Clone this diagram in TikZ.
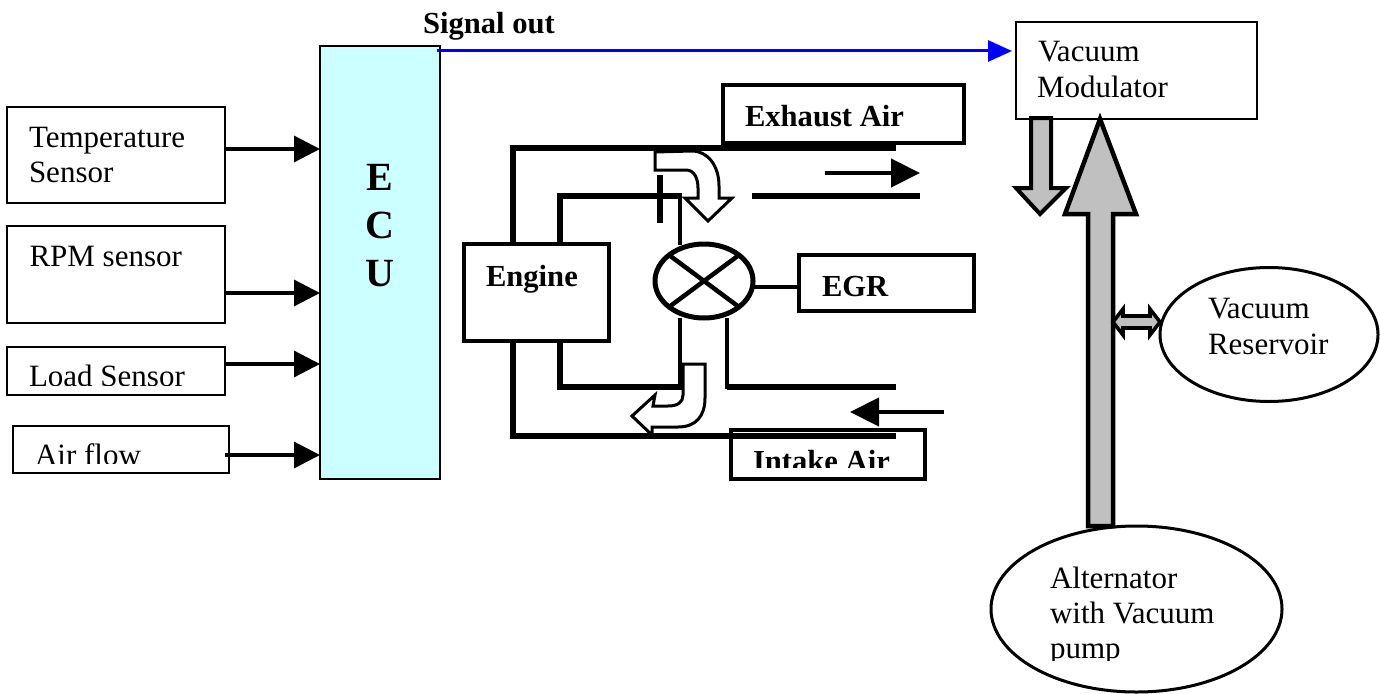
\documentclass[tikz,border=0pt]{standalone}
\usepackage{fontspec}
\setmainfont{Liberation Serif}
\usetikzlibrary{arrows.meta,calc}
\definecolor{graybody}{HTML}{C0C0C0}
\definecolor{ecucyan}{HTML}{CCFFFF}
\definecolor{sigblue}{HTML}{0000FF}
\tikzset{
  box/.style={draw=black,line width=1.7pt,fill=white,inner sep=0pt,outer sep=0pt},
  boldbox/.style={box,line width=3.2pt},
  txt/.style={anchor=base west,inner sep=0pt,outer sep=0pt,font=\fontsize{31}{36}\selectfont},
  btxt/.style={txt,font=\fontsize{30.6}{36}\selectfont\bfseries},
  ecutxt/.style={anchor=base,inner sep=0pt,font=\fontsize{40}{48}\selectfont\bfseries},
  sensorarrow/.style={line width=3.2pt,-{Triangle[length=26pt,width=26pt]}},
  flowarrow/.style={line width=4.5pt,-{Triangle[length=29pt,width=28pt]}},
  pipe/.style={line width=5.6pt,line cap=butt,line join=miter},
  pipethin/.style={line width=4.6pt,line cap=butt},
  whitebend/.style={draw=black,line width=3pt,fill=white,line join=miter},
  grayarrow/.style={draw=black,line width=4pt,fill=graybody,line join=miter}
}
\begin{document}
\begin{tikzpicture}[x=1pt,y=-1pt]
\useasboundingbox (0,0) rectangle (1380,693);
% boxes
\node[box,minimum width=218pt,minimum height=96pt] (temp) at (116,155) {};
\node[box,minimum width=218pt,minimum height=97pt] (rpm) at (116,274.5) {};
\node[box,minimum width=218pt,minimum height=48pt] (load) at (116,371) {};
\node[box,minimum width=216pt,minimum height=47pt] (air) at (121,449.5) {};
\node[box,fill=ecucyan,minimum width=120pt,minimum height=433pt] (ecu) at (380,262.5) {};
\node[box,minimum width=241pt,minimum height=97pt] (mod) at (1136.5,70.5) {};
\node[boldbox,minimum width=241pt,minimum height=58pt] (exh) at (843.5,114) {};
\node[boldbox,minimum width=145pt,minimum height=97pt] (eng) at (536.5,292.5) {};
\node[boldbox,minimum width=175pt,minimum height=56pt] (egr) at (886.5,283) {};
\node[boldbox,minimum width=194pt,minimum height=49pt] (intake) at (828,454.5) {};
% sensor text
\node[txt] (t1) at (29,147) {Temperature};
\node[txt] (t2) at (29,182) {Sensor};
\node[txt] (t3) at (29.5,266) {RPM sensor};
\begin{scope}
\clip (0,340) rectangle (300,385);
\node[txt] (t4) at (29,386) {Load Sensor};
\end{scope}
\begin{scope}
\clip (0,420) rectangle (300,463);
\node[txt] (t5) at (35,465.5) {Air flow};
\end{scope}
% sensor arrows
\draw[sensorarrow] (temp.east |- 0,149) -- (ecu.west |- 0,149);
\draw[sensorarrow] (rpm.east |- 0,293) -- (ecu.west |- 0,293);
\draw[sensorarrow] (load.east |- 0,364) -- (ecu.west |- 0,364);
\draw[sensorarrow] (225,455) -- (ecu.west |- 0,455);
% ECU letters
\node[ecutxt] (e1) at (ecu.center |- 0,190) {E};
\node[ecutxt] (e2) at (ecu.center |- 0,238) {C};
\node[ecutxt] (e3) at (ecu.center |- 0,286) {U};
% signal
\node[btxt] (sig) at (423,34) {Signal out};
\draw[draw=sigblue,line width=3pt,-{Triangle[length=24pt,width=21pt]}] (437,51) -- (1012,51);
% pipes
\draw[pipe] (896,148) -- (513,148) -- (513,244);
\draw[pipe] (513,341) -- (513,436) -- (896,436);
\draw[pipe] (560,244) -- (560,196) -- (682,196);
\draw[pipe] (752,196) -- (920,196);
\draw[pipe] (560,341) -- (560,387) -- (682,387);
\draw[pipe] (727,387) -- (896,387);
\draw[pipethin] (680,196) -- (680,245);
\draw[pipethin] (680,318) -- (680,387);
\draw[pipethin] (727,318) -- (727,389);
\draw[pipe] (660,175) -- (660,223);
% valve
\coordinate (valve) at (704,281);
\draw[line width=5pt,fill=white] (valve) ellipse [x radius=49,y radius=37];
\draw[line width=4.5pt] ($(valve)+(-35,-26)$) -- ($(valve)+(35,26)$);
\draw[line width=4.5pt] ($(valve)+(-35,26)$) -- ($(valve)+(35,-26)$);
\draw[line width=3.5pt] (754,287) -- (egr.west |- 0,287);
% flow arrows
\draw[flowarrow] (825,173) -- (920,173);
\draw[flowarrow] (944,412) -- (850,412);
% bent white arrows
\draw[whitebend] (655,152) -- (655,170) -- (686,170) .. controls (694,170) and (698,178) .. (698,188) -- (698,198) -- (685,198) -- (708,221) -- (732,198) -- (719,198) -- (719,186) .. controls (719,166) and (708,151) .. (692,151) -- cycle;
\draw[whitebend] (683,364) -- (705,364) -- (705,398) .. controls (705,416) and (696,427) .. (678,427) -- (652,427) -- (652,435) -- (632,416) -- (655,395) -- (653,406) -- (668,406) .. controls (678,406) and (683,402) .. (683,395) -- cycle;
% labels in pipes
\node[btxt] (lexh) at (745,126) {Exhaust Air};
\node[btxt] (leng) at (486,286) {Engine};
\node[btxt] (legr) at (822,296) {EGR};
\begin{scope}
\clip (735,432) rectangle (920,467);
\node[btxt] (lint) at (753,471) {Intake Air};
\end{scope}
% modulator text
\node[txt] (m1) at (1038,61) {Vacuum};
\node[txt] (m2) at (1037,97) {Modulator};
% ellipses
\draw[draw=black,line width=3pt,fill=white] (1269,334.5) ellipse [x radius=109,y radius=67];
\draw[draw=black,line width=3pt,fill=white] (1136.5,609) ellipse [x radius=145.5,y radius=83];
\node[txt] (r1) at (1208,318) {Vacuum};
\node[txt] (r2) at (1208,354) {Reservoir};
\begin{scope}
\clip (990,520) rectangle (1285,660);
\node[txt] (a1) at (1050,588) {Alternator};
\node[txt] (a2) at (1050,623) {with Vacuum};
\node[txt] (a3) at (1050,658) {pump};
\end{scope}
% gray arrows
\draw[grayarrow] (1031,118) -- (1051,118) -- (1051,188) -- (1066,188) -- (1040,214) -- (1016,188) -- (1031,188) -- cycle;
\draw[grayarrow,line width=4.5pt] (1100,119) -- (1136,214) -- (1113,214) -- (1113,526) -- (1088,526) -- (1088,214) -- (1065,214) -- cycle;
\draw[grayarrow,line width=3.6pt] (1113,322) -- (1123,309) -- (1123,316) -- (1150,316) -- (1150,309) -- (1160,322) -- (1150,335) -- (1150,328) -- (1123,328) -- (1123,335) -- cycle;
\end{tikzpicture}
\end{document}
